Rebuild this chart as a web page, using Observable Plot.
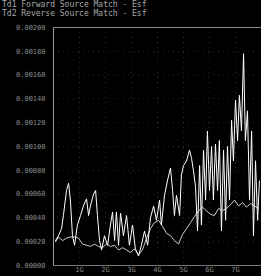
<!DOCTYPE html>
<html><head><meta charset="utf-8">
<style>
body{margin:0;background:#000;overflow:hidden;width:261px;height:276px}
.t{font:8px "DejaVu Sans Mono",monospace;color:#a8a8a8;line-height:9px;white-space:pre;padding-left:2px;height:9px}
</style>
<script src="https://cdn.jsdelivr.net/npm/d3@7"></script>
<script src="https://cdn.jsdelivr.net/npm/@observablehq/plot@0.6"></script>
</head><body>
<div class="t">Td1 Forward Source Match - Esf</div>
<div class="t">Td2 Reverse Source Match - Esf</div>
<div id="chart"></div>
<script>
const seriesNames = ["Td1 Forward Source Match - Esf", "Td2 Reverse Source Match - Esf"];
// frequency in GHz
const fwdFreq = [0.08,0.19,0.31,0.38,0.5,0.58,0.65,0.73,0.81,0.92,1.04,1.15,1.27,1.35,1.42,1.54,1.62,1.69,1.77,1.85,1.96,2.08,2.19,2.27,2.35,2.42,2.5,2.58,2.69,2.81,2.92,3.04,3.15,3.27,3.38,3.5,3.62,3.73,3.85,3.96,4.08,4.15,4.27,4.38,4.5,4.58,4.65,4.73,4.85,4.92,5.0,5.12,5.23,5.31,5.38,5.46,5.54,5.62,5.69,5.77,5.85,5.92,6.0,6.08,6.15,6.23,6.31,6.38,6.46,6.54,6.62,6.69,6.77,6.85,6.92,7.0,7.08,7.15,7.23,7.31,7.38,7.46,7.54,7.62,7.69,7.77,7.85,7.92];
const fwdVal = [0.00021,0.00025,0.00031,0.00042,0.00063,0.00069,0.00055,0.00025,0.00017,0.00034,0.00042,0.0005,0.00056,0.00042,0.0005,0.0006,0.00063,0.00042,0.00021,0.00013,0.00025,0.00017,0.00034,0.00045,0.00021,0.00045,0.00017,0.00044,0.00025,0.00042,0.00017,0.00034,0.00014,0.00008,0.00017,0.00029,0.00017,0.0004,0.0005,0.00038,0.00055,0.00034,0.00059,0.00071,0.00082,0.00063,0.00042,0.00059,0.00042,0.00076,0.00084,0.00088,0.00097,0.0009,0.0008,0.00067,0.00029,0.00084,0.00034,0.00097,0.00055,0.00113,0.00063,0.001,0.00055,0.00102,0.00063,0.00105,0.00029,0.00097,0.00038,0.001,0.00055,0.00122,0.00088,0.00139,0.00105,0.00143,0.00113,0.00178,0.00105,0.0013,0.00055,0.00113,0.00025,0.00088,0.00038,0.00071];
const revFreq = [0.08,0.19,0.35,0.5,0.65,0.81,0.96,1.12,1.27,1.42,1.58,1.73,1.88,2.04,2.19,2.35,2.5,2.65,2.81,2.96,3.12,3.27,3.42,3.58,3.73,3.88,4.04,4.19,4.35,4.5,4.65,4.81,4.96,5.12,5.27,5.42,5.58,5.73,5.88,6.04,6.19,6.35,6.5,6.65,6.81,6.96,7.12,7.27,7.42,7.58,7.73,7.88];
const revVal = [0.0002,0.00024,0.00021,0.00023,0.00024,0.00024,0.00023,0.00018,0.00017,0.00016,0.00018,0.00016,0.00015,0.00018,0.00016,0.00017,0.00013,0.00015,0.00013,0.00011,0.00014,0.00009,0.00013,0.00023,0.00031,0.00036,0.00038,0.00033,0.00027,0.00025,0.00021,0.00018,0.00026,0.00031,0.00036,0.00041,0.00046,0.00049,0.00046,0.00043,0.00042,0.00048,0.00046,0.00048,0.00051,0.00055,0.0005,0.00053,0.00049,0.00052,0.0005,0.00048];
const xTicks = [1,2,3,4,5,6,7];
const xTickLabels = ["1G","2G","3G","4G","5G","6G","7G"];
const yTicks = [0,0.0002,0.0004,0.0006,0.0008,0.001,0.0012,0.0014,0.0016,0.0018,0.002];

const fwd = fwdFreq.map((f,i)=>({f, v: fwdVal[i], s: seriesNames[0]}));
const rev = revFreq.map((f,i)=>({f, v: revVal[i], s: seriesNames[1]}));

const chart = Plot.plot({
  width: 261, height: 258,
  marginLeft: 53, marginRight: 0, marginTop: 9, marginBottom: 11,
  style: {background: "#000", color: "#909090", fontFamily: "DejaVu Sans Mono, monospace", fontSize: "7px"},
  x: {domain: [0, 8], label: null},
  y: {domain: [0, 0.002], label: null},
  marks: [
    Plot.gridX(xTicks, {stroke: "#555", strokeOpacity: 0.5, strokeDasharray: "1,4"}),
    Plot.gridY(yTicks, {stroke: "#555", strokeOpacity: 0.5, strokeDasharray: "1,4"}),
    Plot.ruleX([0], {stroke: "#999"}),
    Plot.ruleY([0.002], {stroke: "#888"}),
    Plot.ruleY([0], {stroke: "#777"}),
    Plot.line(rev, {x: "f", y: "v", stroke: "#d0d0d0", strokeWidth: 1}),
    Plot.line(fwd, {x: "f", y: "v", stroke: "#ffffff", strokeWidth: 1}),
    Plot.axisY(yTicks, {label: null, tickSize: 0, tickPadding: 8, tickFormat: d3.format(".5f"), fill: "#8a8a8a"}),
    Plot.axisX(xTicks, {label: null, tickSize: 0, tickPadding: 2, tickFormat: (d) => xTickLabels[xTicks.indexOf(d)], fill: "#8a8a8a"})
  ]
});
document.getElementById("chart").appendChild(chart);
</script>
</body></html>
